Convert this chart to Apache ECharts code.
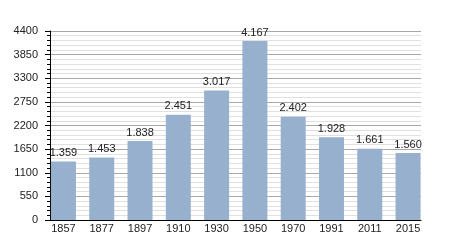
<!DOCTYPE html>
<html>
<head>
<meta charset="utf-8">
<script src="https://cdn.jsdelivr.net/npm/echarts@6/dist/echarts.min.js"></script>
<style>html,body{margin:0;padding:0;background:#fff;}#c{width:450px;height:250px;}</style>
</head>
<body>
<div id="c"></div>
<script>
var categories = ['1857','1877','1897','1910','1930','1950','1970','1991','2011','2015'];
var population = [1359,1453,1838,2451,3017,4167,2402,1928,1661,1560];
var yMin = 0, yMax = 4400, yStep = 550;

function fmt(v){
  var t = Math.floor(v/1000), r = v % 1000;
  return t > 0 ? t + '.' + String(r).padStart(3,'0') : String(r);
}
var font = 'Liberation Sans, Arial, sans-serif';
var chart = echarts.init(document.getElementById('c'), null, {renderer:'canvas'});
chart.setOption({
  animation:false,
  backgroundColor:'#ffffff',
  grid:[
    {left:50, right:29, top:31, bottom:30},
    {left:44.3, right:22.8, top:31, bottom:30}
  ],
  xAxis:[
    {type:'category', gridIndex:0, data:categories,
     axisLine:{show:true, lineStyle:{color:'#000', width:1}},
     axisTick:{show:false}, axisLabel:{show:false}, splitLine:{show:false}},
    {type:'category', gridIndex:1, data:categories,
     axisLine:{show:false}, axisTick:{show:false}, splitLine:{show:false},
     axisLabel:{show:true, color:'#222', fontSize:11, fontFamily:font, margin:3}}
  ],
  yAxis:[
    {type:'value', gridIndex:0, min:yMin, max:yMax, interval:yStep,
     axisLine:{show:true, lineStyle:{color:'#000', width:1}},
     axisTick:{show:true, inside:false, length:5, lineStyle:{color:'#000'}},
     minorTick:{show:true, splitNumber:5, length:3, lineStyle:{color:'#000'}},
     splitLine:{show:true, lineStyle:{color:'#a8a8a8', width:1}},
     minorSplitLine:{show:true, lineStyle:{color:'#e0e0e0', width:1}},
     axisLabel:{color:'#222', fontSize:11, fontFamily:font, margin:12,
       formatter:function(v){return String(v);}}},
    {type:'value', gridIndex:1, min:yMin, max:yMax, interval:yStep, show:false,
     splitLine:{show:false}}
  ],
  series:[{
    type:'bar', xAxisIndex:1, yAxisIndex:1, data:population, barWidth:25,
    itemStyle:{color:'#97b0ce'},
    label:{show:true, position:'top', distance:3, color:'#222', fontSize:11, fontFamily:font,
      formatter:function(p){return fmt(p.value);}}
  }]
});
</script>
</body>
</html>
